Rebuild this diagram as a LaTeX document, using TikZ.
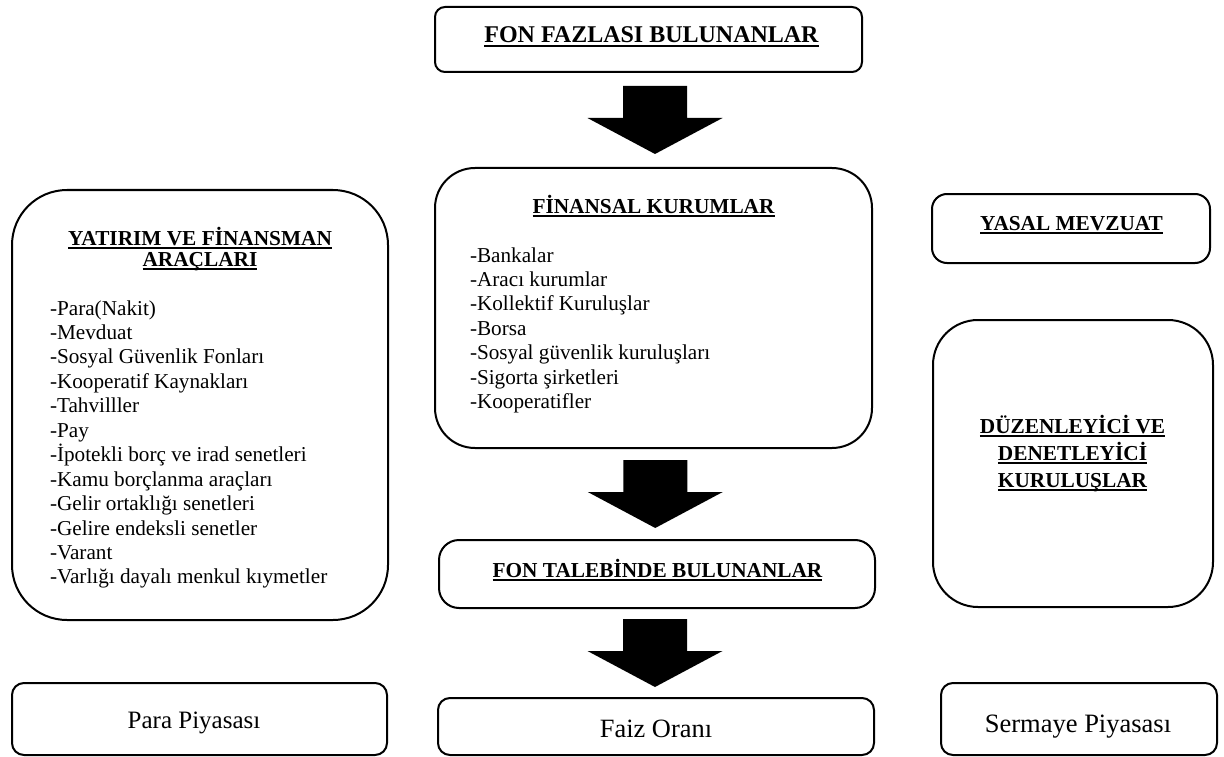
\documentclass[tikz,border=0pt]{standalone}
\usepackage{fontspec}
\setmainfont{Liberation Serif}
\usetikzlibrary{calc}

% underlined heading text with a heavier rule
\newcommand\ulbar[1]{\leavevmode\setbox0\hbox{#1}\rlap{\rule[-3.6pt]{\wd0}{1.8pt}}\box0}
\newcommand\headfont{\fontsize{21.3}{21.3}\selectfont\bfseries}
\newcommand\listfont{\fontsize{21.2}{24.4}\selectfont}

\begin{document}
\begin{tikzpicture}[x=1pt,y=-1pt,
  panel/.style={draw, line width=2pt, rounded corners=#1, inner sep=0pt, outer sep=0pt},
  txt/.style={inner sep=0pt, outer sep=0pt},
  downarrow/.pic={\fill[black] (-32,-34) -- (32,-34) -- (32,-2) -- (67.5,-2)
                   -- (0,34) -- (-67.5,-2) -- (-32,-2) -- cycle;}
]
\useasboundingbox (0,0) rectangle (1224,757);

% frames
\node[panel=10pt, minimum width=427pt, minimum height=65pt]  (fazla)   at (648.5,39.5) {};
\node[panel=40pt, minimum width=437pt, minimum height=280pt] (kurum)   at (653.5,308) {};
\node[panel=20pt, minimum width=436pt, minimum height=68pt]  (talep)   at (657,574) {};
\node[panel=12pt, minimum width=436pt, minimum height=57pt]  (faiz)    at (656,726.5) {};
\node[panel=55pt, minimum width=376pt, minimum height=430pt] (arac)    at (200,405) {};
\node[panel=12pt, minimum width=375pt, minimum height=72pt]  (para)    at (199.5,719) {};
\node[panel=15pt, minimum width=278pt, minimum height=69pt]  (yasal)   at (1071,228.5) {};
\node[panel=45pt, minimum width=280pt, minimum height=287pt] (duz)     at (1073,463.5) {};
\node[panel=12pt, minimum width=276pt, minimum height=72pt]  (sermaye) at (1079,719) {};

% texts
\node[txt, anchor=base, font=\fontsize{24}{24}\selectfont\bfseries] (fazlat) at (651.5,43)
  {\ulbar{FON FAZLASI BULUNANLAR}};

\node[txt, anchor=base, font=\headfont] (kurumt) at (653.5,213) {\ulbar{FİNANSAL KURUMLAR}};
\node[txt, anchor=base west, font=\listfont] (kuruml) at (470,262)
  {\begin{tabular}[t]{@{}l@{}}
   -Bankalar\\
   -Aracı kurumlar\\
   -Kollektif Kuruluşlar\\
   -Borsa\\
   -Sosyal güvenlik kuruluşları\\
   -Sigorta şirketleri\\
   -Kooperatifler
   \end{tabular}};

\node[txt, anchor=base, font=\headfont] (talept) at (657.5,577) {\ulbar{FON TALEBİNDE BULUNANLAR}};
\node[txt, anchor=base, font=\fontsize{26.4}{26.4}\selectfont] (faizt) at (656,737) {Faiz Oranı};

\node[txt, anchor=base, font=\headfont] (aract) at (200,245)
  {\begin{tabular}[t]{@{}c@{}}\ulbar{YATIRIM VE FİNANSMAN}\\ \ulbar{ARAÇLARI}\end{tabular}};
\node[txt, anchor=base west, font=\listfont] (aracl) at (50,315)
  {\begin{tabular}[t]{@{}l@{}}
   -Para(Nakit)\\
   -Mevduat\\
   -Sosyal Güvenlik Fonları\\
   -Kooperatif Kaynakları\\
   -Tahvilller\\
   -Pay\\
   -İpotekli borç ve irad senetleri\\
   -Kamu borçlanma araçları\\
   -Gelir ortaklığı senetleri\\
   -Gelire endeksli senetler\\
   -Varant\\
   -Varlığı dayalı menkul kıymetler
   \end{tabular}};
\node[txt, anchor=base, font=\fontsize{25}{25}\selectfont] (parat) at (194,728) {Para Piyasası};

\node[txt, anchor=base, font=\headfont] (yasalt) at (1071.5,230) {\ulbar{YASAL MEVZUAT}};
\node[txt, anchor=base, font=\fontsize{21.3}{27}\selectfont\bfseries] (duzt) at (1072.5,433)
  {\begin{tabular}[t]{@{}c@{}}\ulbar{DÜZENLEYİCİ VE}\\ \ulbar{DENETLEYİCİ}\\ \ulbar{KURULUŞLAR}\end{tabular}};
\node[txt, anchor=base, font=\fontsize{26.5}{26.5}\selectfont] (sermayet) at (1078,732) {Sermaye Piyasası};

% block arrows between the central boxes
\pic at ($(fazla.south)!0.5!(kurum.north) + (4,0)$) {downarrow};
\pic at ($(kurum.south)!0.5!(talep.north)$) {downarrow};
\pic at ($(talep.south)!0.5!(faiz.north) + (-1.5,0)$) {downarrow};
\end{tikzpicture}
\end{document}
